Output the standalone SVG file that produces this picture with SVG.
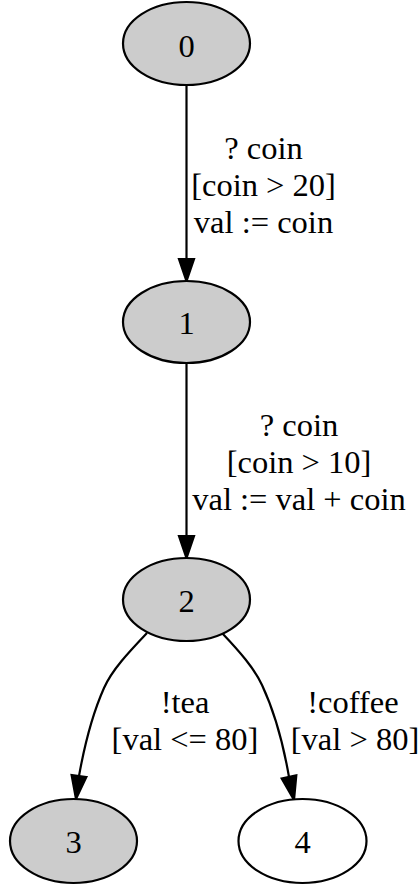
<svg xmlns="http://www.w3.org/2000/svg" width="418" height="885" viewBox="0 0 418 885">
<style>
.node ellipse{stroke:#000;stroke-width:2.2}
.g{fill:#cccccc}
.w{fill:#ffffff}
text{font-family:"Liberation Serif","Times New Roman",serif;font-size:32.5px;fill:#000;text-anchor:middle}
.edge path{fill:none;stroke:#000;stroke-width:2.2}
.edge polygon{fill:#000;stroke:#000;stroke-width:2.2}
</style>
<rect width="418" height="885" fill="#fff"/>
<g id="edges" class="edge">
<g id="e01">
<path d="M186.5,85 L186.5,259"/>
<polygon points="179,259 194,259 186.5,281"/>
<text x="263.5" y="159">? coin</text>
<text x="263.5" y="196">[coin &gt; 20]</text>
<text x="263.5" y="233">val := coin</text>
</g>
<g id="e12">
<path d="M186.5,363 L186.5,536"/>
<polygon points="179,536 194,536 186.5,558"/>
<text x="299" y="436">? coin</text>
<text x="299" y="473">[coin &gt; 10]</text>
<text x="299" y="510">val := val + coin</text>
</g>
<g id="e23">
<path d="M147,633 C128,653 112,670 104,688 C92,715 84,748 79,776"/>
<polygon points="86.4,777 71.6,775 76,799"/>
<text x="185" y="713">!tea</text>
<text x="185" y="750">[val &lt;= 80]</text>
</g>
<g id="e24">
<path d="M222,633 C240,652 254,668 262,685 C276,715 284,748 289,777"/>
<polygon points="296.3,775.4 281.7,778.6 294,800"/>
<text x="353" y="713">!coffee</text>
<text x="355" y="750">[val &gt; 80]</text>
</g>
</g>
<g id="node0" class="node"><ellipse class="g" cx="186.5" cy="43.5" rx="63.5" ry="41.5"/><text x="186.5" y="57">0</text></g>
<g id="node1" class="node"><ellipse class="g" cx="186.5" cy="322" rx="63.5" ry="41"/><text x="186.5" y="334">1</text></g>
<g id="node2" class="node"><ellipse class="g" cx="186.5" cy="599.5" rx="63.5" ry="41.5"/><text x="186.5" y="612">2</text></g>
<g id="node3" class="node"><ellipse class="g" cx="73.5" cy="841" rx="63.5" ry="42"/><text x="73.5" y="853">3</text></g>
<g id="node4" class="node"><ellipse class="w" cx="302.5" cy="841" rx="64" ry="42"/><text x="302.5" y="853">4</text></g>
</svg>
